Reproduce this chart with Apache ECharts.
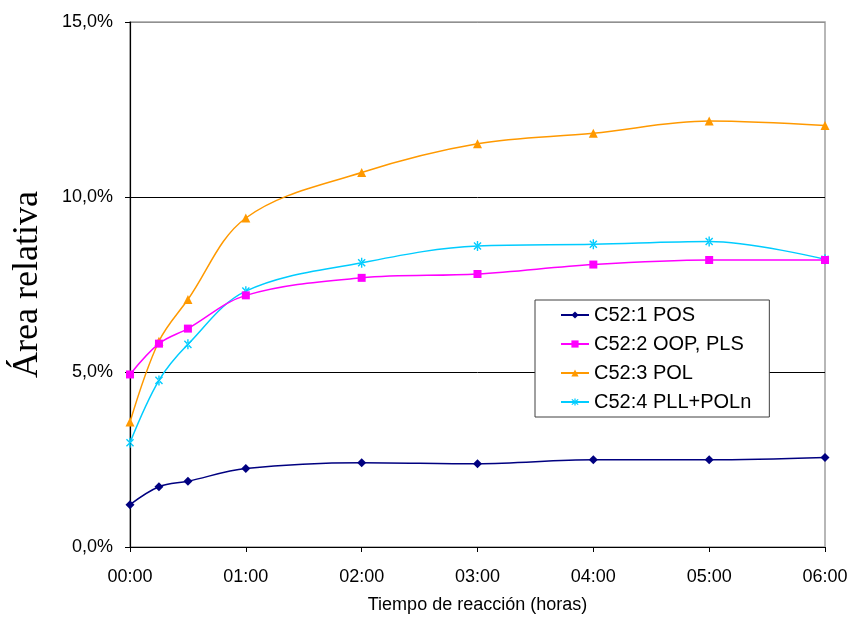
<!DOCTYPE html>
<html>
<head>
<meta charset="utf-8">
<script src="https://cdn.jsdelivr.net/npm/echarts@6/dist/echarts.min.js"></script>
<style>html,body{margin:0;padding:0;background:#fff}#c{width:851px;height:619px}</style>
</head>
<body>
<div id="c"></div>
<script>
// Hours since start of reaction
var hours = [0, 0.25, 0.5, 1, 2, 3, 4, 5, 6];
var seriesNames = ['C52:1 POS', 'C52:2 OOP, PLS', 'C52:3 POL', 'C52:4 PLL+POLn'];
var pos = [1.21, 1.72, 1.88, 2.24, 2.41, 2.38, 2.49, 2.49, 2.56];
var pls = [4.93, 5.81, 6.24, 7.19, 7.69, 7.80, 8.07, 8.20, 8.20];
var pol = [3.57, 5.88, 7.07, 9.40, 10.70, 11.52, 11.82, 12.17, 12.04];
var pll = [2.98, 4.76, 5.79, 7.31, 8.12, 8.60, 8.65, 8.73, 8.22];
var xTickLabels = ['00:00', '01:00', '02:00', '03:00', '04:00', '05:00', '06:00'];
var yTickLabels = ['0,0%', '5,0%', '10,0%', '15,0%'];

var asterisk = 'path://M-0.7,-5L0.7,-5L0.7,5L-0.7,5Z' +
  'M3.04,4.03L4.03,3.04L-3.05,-4.03L-4.03,-3.05Z' +
  'M-3.04,4.03L-4.03,3.04L3.05,-4.03L4.03,-3.05Z';

function pairs(vals) { return hours.map(function (h, i) { return [h, vals[i]]; }); }

var colors = ['#000080', '#FF00FF', '#FF9900', '#00CCFF'];
var symbols = ['diamond', 'rect', 'triangle', asterisk];
var sizes = [9, 8, 9, 10];
var datas = [pos, pls, pol, pll];

var series = datas.map(function (d, i) {
  return {
    name: seriesNames[i],
    type: 'line',
    data: pairs(d),
    smooth: 0.35,
    symbol: symbols[i],
    symbolSize: sizes[i],
    symbolKeepAspect: true,
    showAllSymbol: true,
    color: colors[i],
    lineStyle: { width: 1.5, color: colors[i] },
    itemStyle: { color: colors[i] },
    z: 3 + (3 - i)
  };
});

var sans = 'Liberation Sans, Arial, sans-serif';
var chart = echarts.init(document.getElementById('c'), null, { renderer: 'canvas' });
chart.setOption({
  animation: false,
  backgroundColor: '#fff',
  grid: { left: 130, right: 26, top: 22, bottom: 72, containLabel: false, outerBoundsMode: 'none',
    show: true, borderColor: '#a0a0a0', borderWidth: 1.5 },
  legend: {
    orient: 'vertical',
    left: 535, top: 300,
    padding: [5, 18, 5, 25],
    itemGap: 9,
    itemWidth: 28, itemHeight: 9,
    borderColor: '#404040', borderWidth: 1,
    backgroundColor: '#fff',
    textStyle: { fontFamily: sans, fontSize: 20, color: '#000' },
    data: seriesNames
  },
  xAxis: {
    type: 'value', min: 0, max: 6, interval: 1,
    name: 'Tiempo de reacción (horas)',
    nameLocation: 'middle', nameGap: 49,
    nameTextStyle: { fontFamily: sans, fontSize: 18, color: '#000' },
    axisLine: { show: true, lineStyle: { color: '#000', width: 1.2 } },
    axisTick: { show: true, length: 5, lineStyle: { color: '#000' } },
    axisLabel: { fontFamily: sans, fontSize: 18, color: '#000', margin: 21,
      formatter: function (v) { return xTickLabels[Math.round(v)]; } },
    splitLine: { show: false }
  },
  yAxis: {
    type: 'value', min: 0, max: 15, interval: 5,
    name: 'Área relativa',
    nameLocation: 'middle', nameGap: 84,
    nameTextStyle: { fontFamily: 'Liberation Serif, Times New Roman, serif', fontSize: 36, color: '#000' },
    axisLine: { show: true, lineStyle: { color: '#000', width: 1.2 } },
    axisTick: { show: true, length: 5, lineStyle: { color: '#000' } },
    axisLabel: { fontFamily: sans, fontSize: 18, color: '#000', margin: 17,
      formatter: function (v) { return yTickLabels[Math.round(v / 5)]; } },
    splitLine: { show: true, lineStyle: { color: ['#000', '#000', '#000', '#909090'], width: 1 } }
  },
  series: series
});
</script>
</body>
</html>
